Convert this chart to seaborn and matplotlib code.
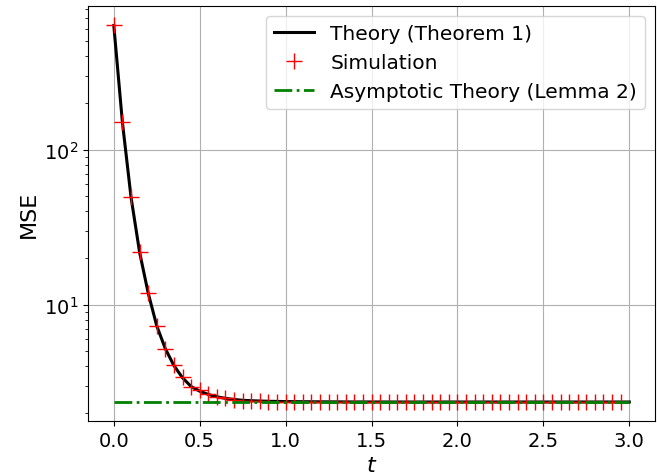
import numpy as np
import pandas as pd
import seaborn as sns
import matplotlib.pyplot as plt

# time grid (step 0.05) and values
t = [round(0.05 * i, 2) for i in range(61)]

theory = [630, 150, 49.5, 21.8, 11.9, 7.3, 5.2, 4.05, 3.38, 2.97, 2.77, 2.64, 2.55,
          2.49, 2.45, 2.42, 2.405, 2.395, 2.385, 2.38, 2.375, 2.372, 2.37, 2.368,
          2.366, 2.365, 2.364, 2.363, 2.362, 2.362, 2.361, 2.361, 2.36, 2.36, 2.36,
          2.36, 2.36, 2.36, 2.36, 2.36, 2.36, 2.36, 2.36, 2.36, 2.36, 2.36, 2.36,
          2.36, 2.36, 2.36, 2.36, 2.36, 2.36, 2.36, 2.36, 2.36, 2.36, 2.36, 2.36,
          2.36, 2.36]

t_sim = t[:60]
simulation = [635, 150, 49.5, 21.8, 11.9, 7.31, 5.21, 4.06, 3.40, 2.94, 2.82, 2.66,
              2.56, 2.49, 2.44, 2.41, 2.39, 2.38, 2.37, 2.37, 2.36, 2.37, 2.36, 2.36,
              2.35, 2.36, 2.36, 2.37, 2.36, 2.35, 2.36, 2.36, 2.36, 2.35, 2.36, 2.36,
              2.36, 2.37, 2.36, 2.36, 2.35, 2.36, 2.36, 2.36, 2.36, 2.35, 2.36, 2.36,
              2.36, 2.36, 2.37, 2.36, 2.36, 2.35, 2.36, 2.36, 2.36, 2.36, 2.35, 2.36]

asymptote = 2.35

fig, ax = plt.subplots(figsize=(6.57, 4.77), dpi=100)
fig.subplots_adjust(left=0.134, right=0.997, top=0.985, bottom=0.115)

sns.lineplot(x=t, y=theory, color='black', linewidth=2.2, ax=ax,
             label='Theory (Theorem 1)')
sns.lineplot(x=t_sim, y=simulation, color='red', marker='+', markersize=12,
             markeredgewidth=1, markeredgecolor='red', linestyle='', ax=ax,
             label='Simulation')
sns.lineplot(x=t, y=[asymptote] * len(t), color='green', linewidth=2,
             linestyle='-.', ax=ax, label='Asymptotic Theory (Lemma 2)')

ax.set_yscale('log')
ax.grid(True, which='major', color='#b0b0b0', linewidth=0.8)
ax.set_xlabel('$t$', fontsize=16)
ax.set_ylabel('MSE', fontsize=16)
ax.tick_params(labelsize=14)
ax.legend(loc='upper right', fontsize=14.5)

fig.savefig('out.png', dpi=100)
